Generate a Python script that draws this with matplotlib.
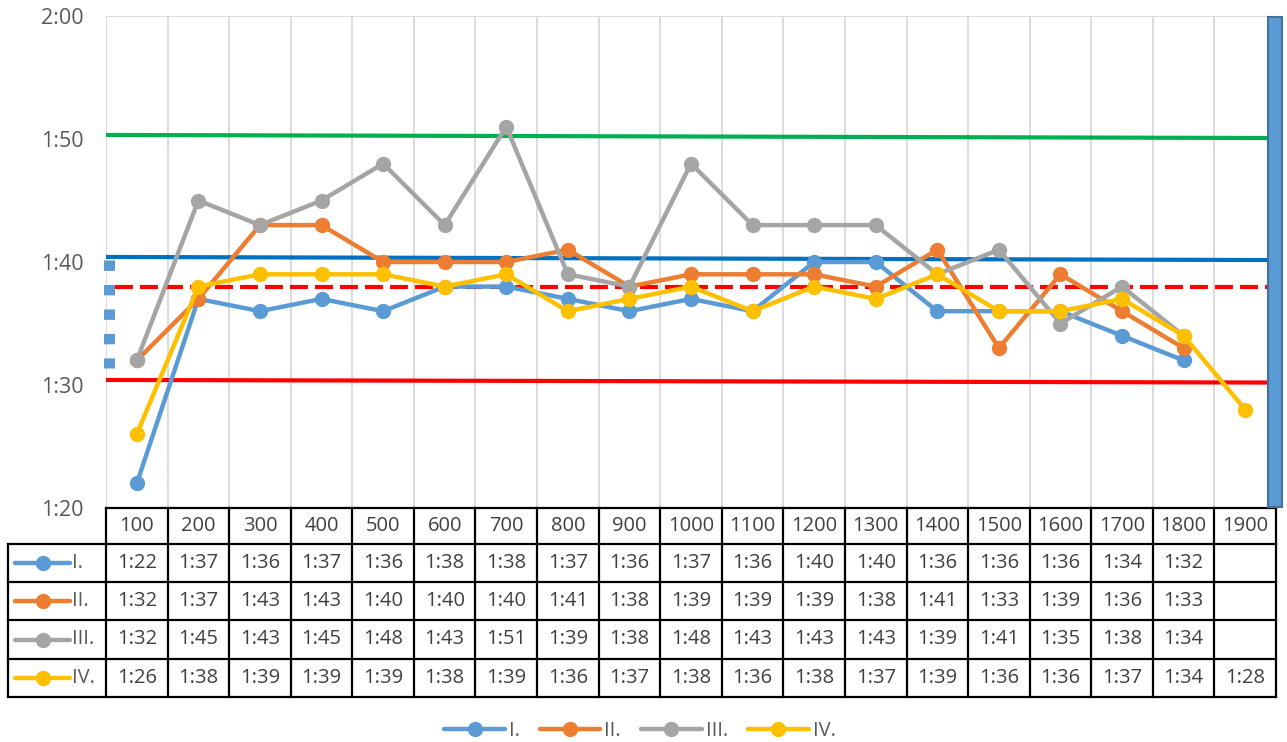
import matplotlib
matplotlib.use("Agg")
import matplotlib.pyplot as plt
from matplotlib.lines import Line2D
from matplotlib.patches import Rectangle
import matplotlib.transforms as mtransforms

plt.rcParams["font.family"] = ["Open Sans", "DejaVu Sans"]

distances = ["100", "200", "300", "400", "500", "600", "700", "800", "900", "1000",
             "1100", "1200", "1300", "1400", "1500", "1600", "1700", "1800", "1900"]
names = ["I.", "II.", "III.", "IV."]
times_I = ["1:22", "1:37", "1:36", "1:37", "1:36", "1:38", "1:38", "1:37", "1:36", "1:37",
           "1:36", "1:40", "1:40", "1:36", "1:36", "1:36", "1:34", "1:32", ""]
times_II = ["1:32", "1:37", "1:43", "1:43", "1:40", "1:40", "1:40", "1:41", "1:38", "1:39",
            "1:39", "1:39", "1:38", "1:41", "1:33", "1:39", "1:36", "1:33", ""]
times_III = ["1:32", "1:45", "1:43", "1:45", "1:48", "1:43", "1:51", "1:39", "1:38", "1:48",
             "1:43", "1:43", "1:43", "1:39", "1:41", "1:35", "1:38", "1:34", ""]
times_IV = ["1:26", "1:38", "1:39", "1:39", "1:39", "1:38", "1:39", "1:36", "1:37", "1:38",
            "1:36", "1:38", "1:37", "1:39", "1:36", "1:36", "1:37", "1:34", "1:28"]
series = [times_I, times_II, times_III, times_IV]
colors = ["#5B9BD5", "#ED7D31", "#A5A5A5", "#FFC000"]

# reference lines (seconds), start/end values
green_ref = (110.33, 110.08)
blue_ref = (100.41, 100.16)
red_dash_ref = (98.0, 98.0)
red_ref = (90.41, 90.2)
blue_dotted = (100.2, 91.4)

yticks = [80, 90, 100, 110, 120]


def to_sec(s):
    if not s:
        return None
    m, sec = s.split(":")
    return int(m) * 60 + int(sec)


def fmt(v):
    return f"{int(v) // 60}:{int(v) % 60:02d}"


W, H = 1287, 742
fig = plt.figure(figsize=(W / 100, H / 100), dpi=100)
ax_left, ax_right, ax_top, ax_bot = 106, 1276, 16, 508
ax = fig.add_axes([ax_left / W, 1 - ax_bot / H, (ax_right - ax_left) / W, (ax_bot - ax_top) / H])

n = len(distances)
ax.set_xlim(-0.5, n - 0.5)
ax.set_ylim(80, 120)

# vertical gridlines
for i in range(n + 1):
    ax.axvline(i - 0.5, color="#D9D9D9", lw=1.3, zorder=0)
ax.axhline(120, color="#D9D9D9", lw=1.3, zorder=0)
for sp in ax.spines.values():
    sp.set_visible(False)
ax.set_xticks([])
ax.set_yticks(yticks)
ax.set_yticklabels([fmt(v) for v in yticks], fontsize=15.5, color="#595959")
ax.tick_params(axis="y", length=0, pad=16)

# reference lines
ax.plot([-0.5, 18.37], green_ref, color="#00B050", lw=3, zorder=2)
ax.plot([-0.48, 18.37], blue_ref, color="#0070C0", lw=3, zorder=2)
ax.plot([-0.35, 18.5], red_dash_ref, color="#FF0000", lw=3, zorder=2,
        dashes=(4.3, 1.7), dash_capstyle="butt")
ax.plot([-0.5, 18.37], red_ref, color="#FF0000", lw=3, zorder=2)
ax.plot([-0.45, -0.45], blue_dotted, color="#5B9BD5", lw=7.9, zorder=2,
        dashes=(0.95, 1.28), dash_capstyle="butt", clip_on=False)

# series
for vals, c, nm in zip(series, colors, names):
    xs = [i for i, v in enumerate(vals) if v]
    ys = [to_sec(v) for v in vals if v]
    ax.plot(xs, ys, color=c, lw=3.2, marker="o", ms=10, zorder=3, label=nm,
            solid_capstyle="round", clip_on=False)

# blue bar on right edge
bar = Rectangle((18.37, 80.1), 0.22, 39.8, facecolor="#5B9BD5", edgecolor="#41719C",
                lw=1.5, zorder=4, clip_on=False)
ax.add_patch(bar)

# data table below the axes
trans = mtransforms.blended_transform_factory(ax.transData, ax.transAxes)
ph = ax_bot - ax_top


def yfrac(py):
    return (ax_bot - py) / ph


row_edges = [508, 544, 582, 620, 659, 697]
left_cell = (8 - ax_left) / 61.58 - 0.5
tk = dict(color="black", lw=1.6, clip_on=False, transform=trans)
# horizontal lines
ax.add_line(Line2D([-0.5, n - 0.5], [yfrac(row_edges[0])] * 2, **tk))
for py in row_edges[1:]:
    ax.add_line(Line2D([left_cell, n - 0.5], [yfrac(py)] * 2, **tk))
# vertical lines
for i in range(n + 1):
    ax.add_line(Line2D([i - 0.5, i - 0.5], [yfrac(row_edges[0]), yfrac(row_edges[-1])], **tk))
ax.add_line(Line2D([left_cell, left_cell], [yfrac(row_edges[1]), yfrac(row_edges[-1])], **tk))

tx = dict(transform=trans, ha="center", va="center", fontsize=14.5, color="#404040", clip_on=False)
for i, d in enumerate(distances):
    ax.text(i, yfrac((row_edges[0] + row_edges[1]) / 2), d, **tx)
for r, (vals, c, nm) in enumerate(zip(series, colors, names)):
    yc = yfrac((row_edges[r + 1] + row_edges[r + 2]) / 2)
    for i, v in enumerate(vals):
        if v:
            ax.text(i, yc, v, **tx)
    # legend key in the row header
    x0 = left_cell + 7 / 61.58
    x1 = left_cell + 62 / 61.58
    ax.add_line(Line2D([x0, x1], [yc, yc], color=c, lw=3.2, transform=trans, clip_on=False,
                       solid_capstyle="round"))
    ax.add_line(Line2D([(x0 + x1) / 2], [yc], color=c, marker="o", ms=10, transform=trans,
                       clip_on=False))
    ax.text(left_cell + 64 / 61.58, yc, nm, transform=trans, ha="left", va="center",
            fontsize=14.5, color="#595959", clip_on=False)

handles, labels = ax.get_legend_handles_labels()
fig.legend(handles, labels, loc="center", bbox_to_anchor=(640 / W, 1 - 731 / H), ncol=4,
           frameon=False, fontsize=14.5, handlelength=3.0, columnspacing=1.0, handletextpad=0.2,
           labelcolor="#595959")

fig.savefig("out.png", dpi=100)
